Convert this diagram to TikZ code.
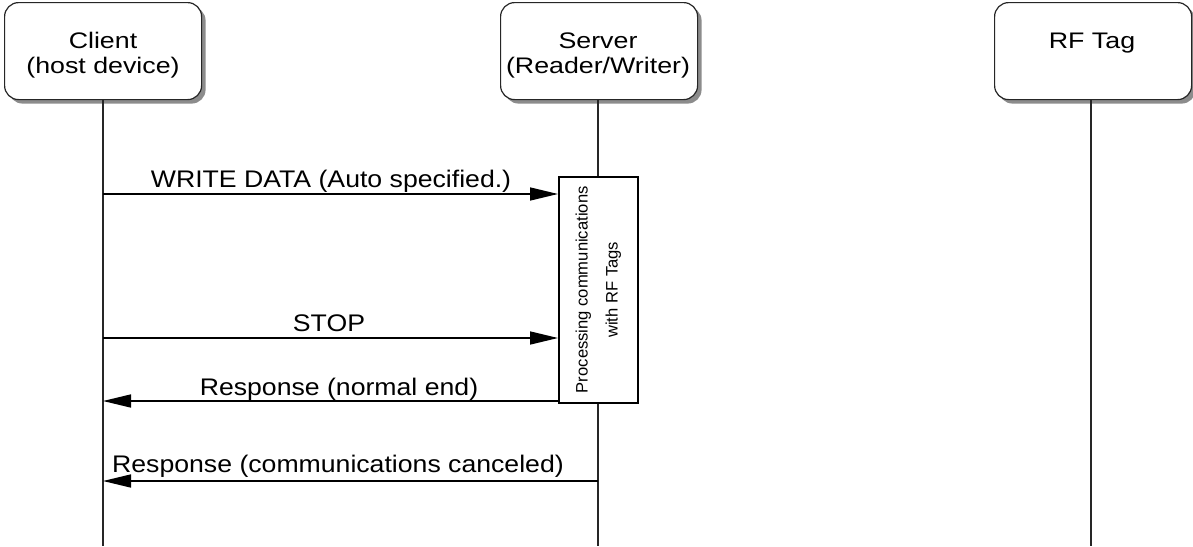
\documentclass[tikz,border=0pt]{standalone}
\usepackage{fontspec}
\setmainfont{Liberation Sans}
\newfontfamily\boxfont[FakeStretch=1.19]{Liberation Sans}
\newfontfamily\lblfont[FakeStretch=1.11]{Liberation Sans}
\usetikzlibrary{arrows.meta,shadows}
\begin{document}
\begin{tikzpicture}[x=1pt,y=-1pt,
  actor/.style={draw=black!85, line width=1.2pt, rounded corners=14pt, fill=white,
    minimum width=197pt, minimum height=97pt, inner sep=0pt,
    drop shadow={shadow xshift=4pt, shadow yshift=-4pt, fill=black!45, opacity=1}},
  atext/.style={anchor=base, inner sep=0pt, font=\boxfont\fontsize{22.5}{25}\selectfont},
  life/.style={line width=1.6pt, black!85},
  msg/.style={line width=1.6pt, -{Triangle[length=28pt,width=13pt]}},
  lbl/.style={anchor=base, inner sep=0pt, font=\lblfont\fontsize{24}{27}\selectfont}
  ]
\useasboundingbox (0,0) rectangle (1193,546);
\node[actor, anchor=north west] (client) at (4,2) {};
\node[actor, anchor=north west] (server) at (500,2) {};
\node[actor, anchor=north west] (tag) at (994,2) {};
\node[atext] (clientA) at (103,48) {Client};
\node[atext] (clientB) at (103,73) {(host device)};
\node[atext] (serverA) at (598,48) {Server};
\node[atext] (serverB) at (598,73) {(Reader/Writer)};
\node[atext] (tagA) at (1092,48) {RF Tag};
\coordinate (cb) at (103,546);
\coordinate (sb) at (598,546);
\coordinate (tb) at (1091,546);
\draw[life] (client.south -| cb) -- (cb);
\draw[life] (server.south -| sb) -- (sb);
\draw[life] (tag.south -| tb) -- (tb);
\node[draw, line width=1.5pt, fill=white, minimum width=79pt, minimum height=226pt, anchor=north west, inner sep=0pt] (proc) at (558,176) {};
\node[rotate=90, align=center, inner sep=0pt, font=\fontsize{16.6}{30}\selectfont] (proctext) at (proc.center) {Processing communications\\with RF Tags};
\coordinate (c1) at (103,194);
\coordinate (c2) at (103,338);
\coordinate (c3) at (103,401);
\coordinate (c4) at (103,481);
\coordinate (s4) at (598,481);
\draw[msg] (c1) -- (c1 -| proc.west);
\draw[msg] (c2) -- (c2 -| proc.west);
\draw[msg] (c3 -| proc.west) -- (c3);
\draw[msg] (s4) -- (c4);
\node[lbl] (l1) at (331,187) {WRITE DATA (Auto specified.)};
\node[lbl] (l2) at (329,331) {STOP};
\node[lbl] (l3) at (339,395) {Response (normal end)};
\node[lbl] (l4) at (338,472) {Response (communications canceled)};
\end{tikzpicture}
\end{document}
